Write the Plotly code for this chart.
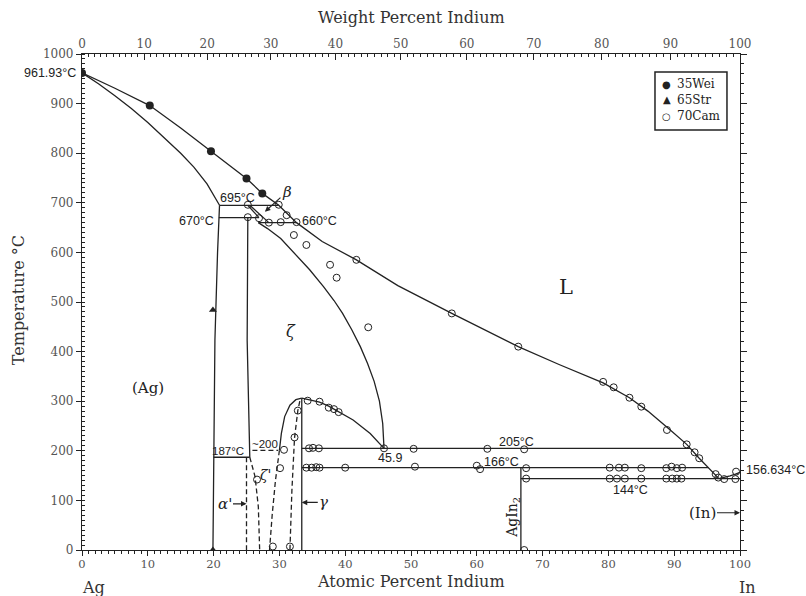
import plotly.graph_objects as go

# ---------------- phase boundaries (atomic % In, temperature °C) ----------------
liq_x = [0, 5, 10.3, 15, 19.6, 25.0, 27.4, 29.9, 32.6, 36.5, 41.7, 48.0, 56.2, 61.0,
         66.3, 72.5, 79.2, 83.2, 86.0, 89.4, 91.9, 93.8, 95.2, 96.8]
liq_T = [961.93, 931, 896, 851, 804, 749, 719, 695, 660, 622, 585, 533, 477, 445,
         410, 374, 337, 307, 280, 242, 213, 185, 166, 144]

liq_in_x = [96.8, 97.6, 98.5, 99.3, 100]
liq_in_T = [144, 146, 149.5, 153, 156.634]

ag_solidus_x = [0, 2.5, 5, 7.5, 10, 12.5, 15, 17, 19, 20.9]
ag_solidus_T = [961.93, 940, 916, 890, 862, 832, 800, 772, 738, 695]

ag_solvus_x = [20.9, 20.6, 20.2, 20.0, 19.9]
ag_solvus_T = [695, 600, 423, 187, 0]

beta_a_x = [25.2, 26.9]
beta_a_T = [695, 670]
beta_b_x = [25.5, 28.4]
beta_b_T = [695, 660]

zeta_left_x = [25.2, 25.1, 25.5]
zeta_left_T = [670, 423, 187]

zeta_sol_x = [26.8, 28.2, 30.2, 32.3, 34.6, 36.7, 38.3, 39.6, 41.0, 42.3, 43.4, 44.4, 45.2, 45.7, 45.9]
zeta_sol_T = [660, 648, 628, 598, 565, 531, 503, 477, 444, 410, 376, 340, 300, 255, 205]

dome_right_x = [33.4, 34.3, 36.1, 37.5, 39.0, 41.2, 43.8, 45.9]
dome_right_T = [306, 303, 298, 290, 279, 262, 235, 205]
dome_left_x = [30.0, 30.3, 30.8, 31.6, 32.5, 33.4]
dome_left_T = [201, 235, 269, 292, 303, 306]

gamma_x = [33.4, 33.4]
gamma_T = [306, 0]
agin2_x = [66.7, 66.7]
agin2_T = [166, 0]

# isotherms
iso_T = [695, 670, 660, 205, 187, 166, 144]
iso_x0 = [20.9, 20.8, 26.8, 33.4, 20.0, 33.4, 66.7]
iso_x1 = [29.9, 26.9, 32.6, 92.4, 25.5, 95.2, 100]

# dashed (low-temperature ordering) boundaries
alpha_p_x = [25.0, 25.0]
alpha_p_T = [187, 0]
zeta_p_left_x = [25.5, 26.3, 26.8, 27.0]
zeta_p_left_T = [187, 148, 87, 0]
zeta_p_right_x = [30.0, 29.4, 28.9, 28.5]
zeta_p_right_T = [201, 140, 70, 0]
gamma_dash_x = [33.1, 32.8, 32.3, 31.9, 31.6]
gamma_dash_T = [300, 281, 226, 120, 0]
order_x = [25.9, 29.8]
order_T = [201, 201]

# ---------------- experimental points ----------------
wei_x = [0, 10.3, 19.6, 25.0, 27.4]
wei_T = [961.93, 896, 804, 749, 719]

str_x = [19.9, 19.9]
str_T = [484, 0]

cam_x = [25.2, 25.2, 26.9, 28.4, 30.2, 31.1, 29.9, 32.6,
         32.2, 34.1, 37.7, 38.7, 41.7, 43.5,
         56.2, 66.3, 79.2, 80.8, 83.2, 85.0, 88.9, 91.9, 93.1, 93.8, 96.3, 96.7, 97.6, 99.4, 99.3,
         34.3, 36.1, 37.5, 38.3, 39.0, 32.8, 32.3,
         26.6, 29.0, 30.1, 30.7, 31.6,
         34.5, 35.1, 36.0, 45.9, 50.4, 61.6, 67.2,
         34.1, 34.9, 35.6, 36.1, 40.0, 50.6, 60.0, 60.5, 67.5, 80.2, 81.6, 82.5, 85.0,
         88.8, 89.6, 90.4, 91.2,
         67.5, 80.2, 81.3, 82.5, 85.0, 88.8, 89.7, 90.4, 91.1,
         67.2]
cam_T = [696, 671, 669, 660, 661, 675, 696, 661,
         635, 615, 575, 549, 585, 449,
         477, 410, 339, 328, 307, 289, 242, 213, 197, 185, 153, 146, 143, 158, 143,
         301, 299, 287, 284, 278, 281, 227,
         142, 7, 165, 202, 7,
         205, 206, 205, 205, 204, 204, 203,
         166, 166, 167, 166, 166, 168, 170, 163, 165, 166, 166, 166, 165,
         165, 168, 165, 166,
         144, 144, 144, 144, 144, 144, 144, 144, 144,
         0]

legend_names = ["35Wei", "65Str", "70Cam"]
legend_glyphs = ["●", "▲", "○"]

# ---------------- axis ticks ----------------
wt_major = list(range(0, 101, 10))
wt_minor = [w for w in range(0, 101) if w % 10]
M_AG, M_IN = 107.868, 114.818


def wt_to_at(w):
    n_in = w / M_IN
    n_ag = (100 - w) / M_AG
    return 100 * n_in / (n_in + n_ag)


INK = "#222222"
TICK_FONT = dict(family="DejaVu Serif", size=12, color="#555555")
XTICK_FONT = dict(family="DejaVu Serif", size=11.5, color="#555555")
SANS = "Liberation Sans"
SERIF = "DejaVu Serif"

fig = go.Figure()


def boundary(x, y, dash="solid"):
    fig.add_trace(go.Scatter(x=x, y=y, mode="lines", showlegend=False, hoverinfo="skip",
                             line=dict(color=INK, width=1.3, dash=dash)))


boundary(liq_x, liq_T)
boundary(liq_in_x, liq_in_T)
boundary(ag_solidus_x, ag_solidus_T)
boundary(ag_solvus_x, ag_solvus_T)
boundary(beta_a_x, beta_a_T)
boundary(beta_b_x, beta_b_T)
boundary(zeta_left_x, zeta_left_T)
boundary(zeta_sol_x, zeta_sol_T)
boundary(dome_right_x, dome_right_T)
boundary(dome_left_x, dome_left_T)
boundary(gamma_x, gamma_T)
boundary(agin2_x, agin2_T)
for t, a, b in zip(iso_T, iso_x0, iso_x1):
    boundary([a, b], [t, t])

DASH = "5px,3px"
boundary(alpha_p_x, alpha_p_T, DASH)
boundary(zeta_p_left_x, zeta_p_left_T, DASH)
boundary(zeta_p_right_x, zeta_p_right_T, DASH)
boundary(gamma_dash_x, gamma_dash_T, DASH)
boundary(order_x, order_T, DASH)

fig.add_trace(go.Scatter(x=wei_x, y=wei_T, mode="markers", name="35Wei", showlegend=False,
                         marker=dict(symbol="circle", size=8, color=INK)))
fig.add_trace(go.Scatter(x=str_x, y=str_T, mode="markers", name="65Str", showlegend=False,
                         marker=dict(symbol="triangle-up", size=7, color=INK)))
fig.add_trace(go.Scatter(x=cam_x, y=cam_T, mode="markers", name="70Cam", showlegend=False,
                         marker=dict(symbol="circle-open", size=7, color=INK,
                                     line=dict(width=1, color=INK))))

# helper traces so the extra axes get drawn
fig.add_trace(go.Scatter(x=[None], y=[None], xaxis="x2", yaxis="y", showlegend=False, hoverinfo="skip"))
fig.add_trace(go.Scatter(x=[None], y=[None], xaxis="x3", yaxis="y", showlegend=False, hoverinfo="skip"))
fig.add_trace(go.Scatter(x=[None], y=[None], xaxis="x", yaxis="y2", showlegend=False, hoverinfo="skip"))

ann = []


def label(x, y, text, size=12.5, family=SANS, **kw):
    d = dict(x=x, y=y, text=text, showarrow=False, font=dict(family=family, size=size, color=INK))
    d.update(kw)
    ann.append(d)


label(0, 961.93, "961.93°C", xref="paper", xanchor="right", xshift=-4)
label(1, 156.634, "156.634°C", xref="paper", xanchor="left", xshift=4, yshift=2)
label(23.7, 709, "695°C")
label(20.4, 664, "670°C", xanchor="right")
label(33.1, 663, "660°C", xanchor="left")
label(22.2, 200, "187°C", size=11.5)
label(27.8, 213, "~200", size=11.5)
label(46.8, 185, "45.9", size=12.5)
label(66.1, 218, "205°C")
label(63.8, 178, "166°C")
label(83.3, 121, "144°C")
label(10.0, 327, "(Ag)", size=15, family=SERIF)
label(73.5, 530, "L", size=21, family=SERIF)
label(31.8, 440, "<i>ζ</i>", size=16, family=SERIF)
label(27.9, 151, "<i>ζ'</i>", size=14, family=SERIF)
label(65.5, 67, "AgIn<sub>2</sub>", size=14, family=SERIF, textangle=-90)

# arrowed labels
for hx, hy, txt, axp, ayp in [(27.8, 682, "<i>β</i>", 22, -20),
                              (25.0, 93, "<i>α'</i>", -22, 0),
                              (33.4, 96, "<i>γ</i>", 22, 0),
                              (100, 75, "(In)", -38, 0)]:
    ann.append(dict(x=hx, y=hy, text=txt, showarrow=True, ax=axp, ay=ayp,
                    arrowhead=2, arrowsize=1, arrowwidth=1.1, arrowcolor=INK,
                    font=dict(family=SERIF, size=15, color=INK)))

# axis titles and end-member labels
TITLE_FONT = dict(family=SERIF, size=16, color="#333333")
for tx, ty, txt, ang in [(0.5, 1.0726, "Weight Percent Indium", 0),
                         (0.5, -0.0625, "Atomic Percent Indium", 0),
                         (-0.097, 0.504, "Temperature °C", -90),
                         (0.017, -0.0746, "Ag", 0),
                         (1.012, -0.0746, "In", 0)]:
    ann.append(dict(x=tx, y=ty, xref="paper", yref="paper", text=txt, showarrow=False,
                    xanchor="center", yanchor="middle", textangle=ang, font=TITLE_FONT))

# key box
LEG_X0, LEG_X1, LEG_Y0, LEG_Y1 = 0.8708, 0.9802, 0.8468, 0.9637
row_y = [0.9395, 0.9073, 0.8750]
for gy, glyph, name in zip(row_y, legend_glyphs, legend_names):
    ann.append(dict(x=0.889, y=gy, xref="paper", yref="paper", text=glyph, showarrow=False,
                    xanchor="center", yanchor="middle",
                    font=dict(family="DejaVu Sans", size=10, color=INK)))
    ann.append(dict(x=0.9012, y=gy, xref="paper", yref="paper", text=name, showarrow=False,
                    xanchor="left", yanchor="middle",
                    font=dict(family=SERIF, size=12, color=INK)))

AXLINE = dict(showline=True, linecolor=INK, linewidth=1.3, showgrid=False, zeroline=False)

fig.update_layout(
    width=806, height=596,
    margin=dict(l=82, r=66, t=54, b=46),
    paper_bgcolor="white", plot_bgcolor="white",
    showlegend=False,
    annotations=ann,
    shapes=[dict(type="rect", xref="paper", yref="paper", x0=LEG_X0, x1=LEG_X1,
                 y0=LEG_Y0, y1=LEG_Y1, line=dict(color=INK, width=1.5), fillcolor="white",
                 layer="above")],
    xaxis=dict(range=[0, 100], tick0=0, dtick=10, ticks="outside", ticklen=5,
               tickcolor=INK, tickfont=XTICK_FONT, ticklabelstandoff=-2,
               minor=dict(dtick=1, ticks="outside", ticklen=3, tickcolor=INK), **AXLINE),
    xaxis2=dict(range=[0, 100], overlaying="x", side="top", anchor="y",
                tickmode="array", tickvals=[wt_to_at(w) for w in wt_major],
                ticktext=[str(w) for w in wt_major], ticks="inside", ticklen=6,
                tickcolor=INK, tickfont=TICK_FONT, **AXLINE),
    xaxis3=dict(range=[0, 100], overlaying="x", side="top", anchor="y",
                tickmode="array", tickvals=[wt_to_at(w) for w in wt_minor],
                ticks="inside", ticklen=3, tickcolor=INK, showticklabels=False,
                showline=False, showgrid=False, zeroline=False),
    yaxis=dict(range=[0, 1000], tick0=0, dtick=100, ticks="outside", ticklen=5,
               tickcolor=INK, tickfont=TICK_FONT,
               minor=dict(dtick=10, ticks="inside", ticklen=3, tickcolor=INK), **AXLINE),
    yaxis2=dict(range=[0, 1000], overlaying="y", side="right", anchor="x",
                tick0=0, dtick=100, ticks="outside", ticklen=6, tickcolor=INK,
                showticklabels=False,
                minor=dict(dtick=20, ticks="outside", ticklen=3, tickcolor=INK), **AXLINE),
)

fig.write_html("out.html")
